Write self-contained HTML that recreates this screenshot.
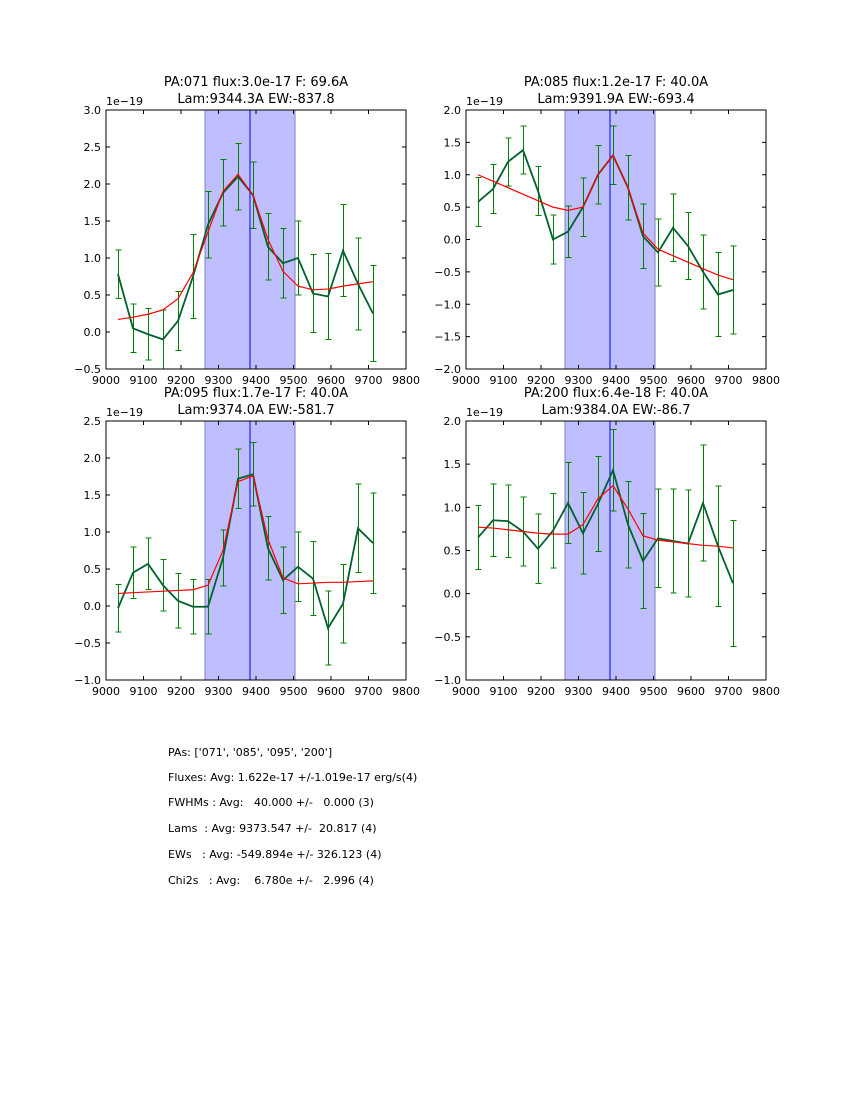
<!DOCTYPE html>
<html><head><meta charset="utf-8"><style>
html,body{margin:0;padding:0;background:#fff;}
svg{display:block;font-family:"DejaVu Sans","Liberation Sans",sans-serif;}
</style></head><body>
<svg id="fig" width="850" height="1100" viewBox="0 0 850 1100" xmlns="http://www.w3.org/2000/svg">
<rect width="850" height="1100" fill="#fff"/>
<g font-size="11" fill="#000">
<text x="168" y="756">PAs: ['071', '085', '095', '200']</text>
<text x="168" y="781">Fluxes: Avg: 1.622e-17 +/-1.019e-17 erg/s(4)</text>
<text x="168" y="806" xml:space="preserve">FWHMs : Avg:   40.000 +/-   0.000 (3)</text>
<text x="168" y="832" xml:space="preserve">Lams  : Avg: 9373.547 +/-  20.817 (4)</text>
<text x="168" y="858" xml:space="preserve">EWs   : Avg: -549.894e +/- 326.123 (4)</text>
<text x="168" y="884" xml:space="preserve">Chi2s   : Avg:    6.780e +/-   2.996 (4)</text>
</g>
</svg>
<script>
const xVals = [9032,9072,9112,9152,9192,9232,9272,9312,9352,9392,9432,9472,9512,9552,9592,9632,9672,9712];
const xTicks = [9000,9100,9200,9300,9400,9500,9600,9700,9800];
const titles1 = ["PA:071 flux:3.0e-17 F: 69.6A","PA:085 flux:1.2e-17 F: 40.0A","PA:095 flux:1.7e-17 F: 40.0A","PA:200 flux:6.4e-18 F: 40.0A"];
const titles2 = ["Lam:9344.3A EW:-837.8","Lam:9391.9A EW:-693.4","Lam:9374.0A EW:-581.7","Lam:9384.0A EW:-86.7"];
const yRanges = [[-0.5,3.0],[-2,2],[-1,2.5],[-1,2]];
const dataA = [0.78,0.05,-0.03,-0.1,0.15,0.75,1.45,1.88,2.1,1.85,1.15,0.93,1.0,0.52,0.48,1.1,0.65,0.25];
const errA = [0.33,0.33,0.35,0.4,0.4,0.57,0.45,0.45,0.45,0.45,0.45,0.47,0.5,0.53,0.58,0.62,0.62,0.65];
const modelA = [0.17,0.2,0.24,0.3,0.45,0.8,1.35,1.9,2.13,1.85,1.25,0.82,0.62,0.57,0.58,0.62,0.65,0.68];
const dataB = [0.58,0.78,1.2,1.38,0.75,0.0,0.12,0.5,1.0,1.3,0.8,0.05,-0.2,0.18,-0.1,-0.5,-0.85,-0.78];
const errB = [0.38,0.38,0.37,0.37,0.38,0.38,0.4,0.45,0.45,0.45,0.5,0.5,0.52,0.52,0.52,0.57,0.65,0.68];
const modelB = [1.0,0.9,0.8,0.7,0.6,0.5,0.45,0.5,1.0,1.3,0.8,0.1,-0.15,-0.25,-0.35,-0.45,-0.55,-0.62];
const dataC = [-0.03,0.45,0.57,0.28,0.07,-0.01,-0.01,0.65,1.72,1.78,0.78,0.35,0.53,0.37,-0.3,0.03,1.05,0.85];
const errC = [0.32,0.35,0.35,0.35,0.37,0.37,0.37,0.38,0.4,0.43,0.43,0.45,0.47,0.5,0.5,0.53,0.6,0.68];
const modelC = [0.17,0.18,0.19,0.2,0.21,0.22,0.28,0.75,1.68,1.76,0.9,0.38,0.3,0.31,0.32,0.32,0.33,0.34];
const dataD = [0.65,0.85,0.84,0.72,0.52,0.73,1.05,0.7,1.04,1.43,0.8,0.38,0.64,0.61,0.58,1.05,0.55,0.12];
const errD = [0.37,0.42,0.42,0.4,0.4,0.43,0.47,0.47,0.55,0.47,0.5,0.55,0.57,0.6,0.62,0.67,0.7,0.73];
const modelD = [0.77,0.76,0.74,0.72,0.7,0.69,0.69,0.8,1.1,1.25,0.98,0.67,0.62,0.6,0.58,0.56,0.55,0.53];
const bandLo = 9264, bandHi = 9504, lineLam = 9384;

const NS="http://www.w3.org/2000/svg";
const fig=document.getElementById('fig');
function mk(tag,attrs,parent){const e=document.createElementNS(NS,tag);for(const k in attrs)e.setAttribute(k,attrs[k]);(parent||fig).appendChild(e);return e;}
const panels=[{x:106,y:110,data:dataA,err:errA,model:modelA},{x:466,y:110,data:dataB,err:errB,model:modelB},{x:106,y:421,data:dataC,err:errC,model:modelC},{x:466,y:421,data:dataD,err:errD,model:modelD}];
const W=300,H=259;
panels.forEach((p,i)=>{
  const g=mk('g',{});
  
  
  const [y0,y1]=yRanges[i];
  const sx=v=>p.x+(v-9000)/800*W;
  const sy=v=>p.y+H-(v-y0)/(y1-y0)*H;
  const band=mk('rect',{x:sx(bandLo),y:p.y,width:sx(bandHi)-sx(bandLo),height:H,fill:'#bfbfff',stroke:'#7f7fbf','stroke-width':1},g);
  
  
  const vl=mk('line',{x1:sx(lineLam),x2:sx(lineLam),y1:p.y,y2:p.y+H,stroke:'#0000ff','stroke-width':1},g);
  
  
  p.data.forEach((d,j)=>{
    const x=Math.round(sx(xVals[j]))+0.5,yt=sy(d+p.err[j]),yb=sy(d-p.err[j]);
    const eb=mk('path',{d:`M${x},${yt}V${yb}M${x-3},${yt}H${x+3}M${x-3},${yb}H${x+3}`,stroke:'#008000','stroke-width':1,fill:'none','shape-rendering':'crispEdges'},g);
    
    
  });
  const dl=mk('polyline',{points:p.data.map((d,j)=>sx(xVals[j])+','+sy(d)).join(' '),fill:'none',stroke:'#006030','stroke-width':1.8},g);
  
  
  const ml=mk('polyline',{points:p.model.map((d,j)=>sx(xVals[j])+','+sy(d)).join(' '),fill:'none',stroke:'#ff0000','stroke-width':1.2},g);
  
  
  const fr=mk('rect',{x:p.x,y:p.y,width:W,height:H,fill:'none',stroke:'#000','stroke-width':1},g);
  
  
  xTicks.forEach(t=>{
    const x=sx(t);
    mk('path',{d:`M${x},${p.y+H}v-4M${x},${p.y}v4`,stroke:'#000'},g);
    const tl=mk('text',{x:x,y:p.y+H+15,'font-size':11,'text-anchor':'middle'},g);
    tl.textContent=t;
    
    
  });
  for(let v=y0;v<=y1+1e-9;v+=0.5){
    const y=sy(v);
    mk('path',{d:`M${p.x},${y}h4M${p.x+W},${y}h-4`,stroke:'#000'},g);
    const tl=mk('text',{x:p.x-5,y:y+4,'font-size':11,'text-anchor':'end'},g);
    tl.textContent=(v<0?'\u2212':'')+Math.abs(v).toFixed(1);
    
    
  }
  const off=mk('text',{x:p.x,y:p.y-5,'font-size':11},g);
  off.textContent='1e\u221219';
  
  
  const t1=mk('text',{x:p.x+W/2,y:p.y-24,'font-size':13,'text-anchor':'middle'},g);
  t1.textContent=titles1[i];
  
  
  const t2=mk('text',{x:p.x+W/2,y:p.y-7,'font-size':13,'text-anchor':'middle'},g);
  t2.textContent=titles2[i];
  
  
});
</script>
</body></html>
